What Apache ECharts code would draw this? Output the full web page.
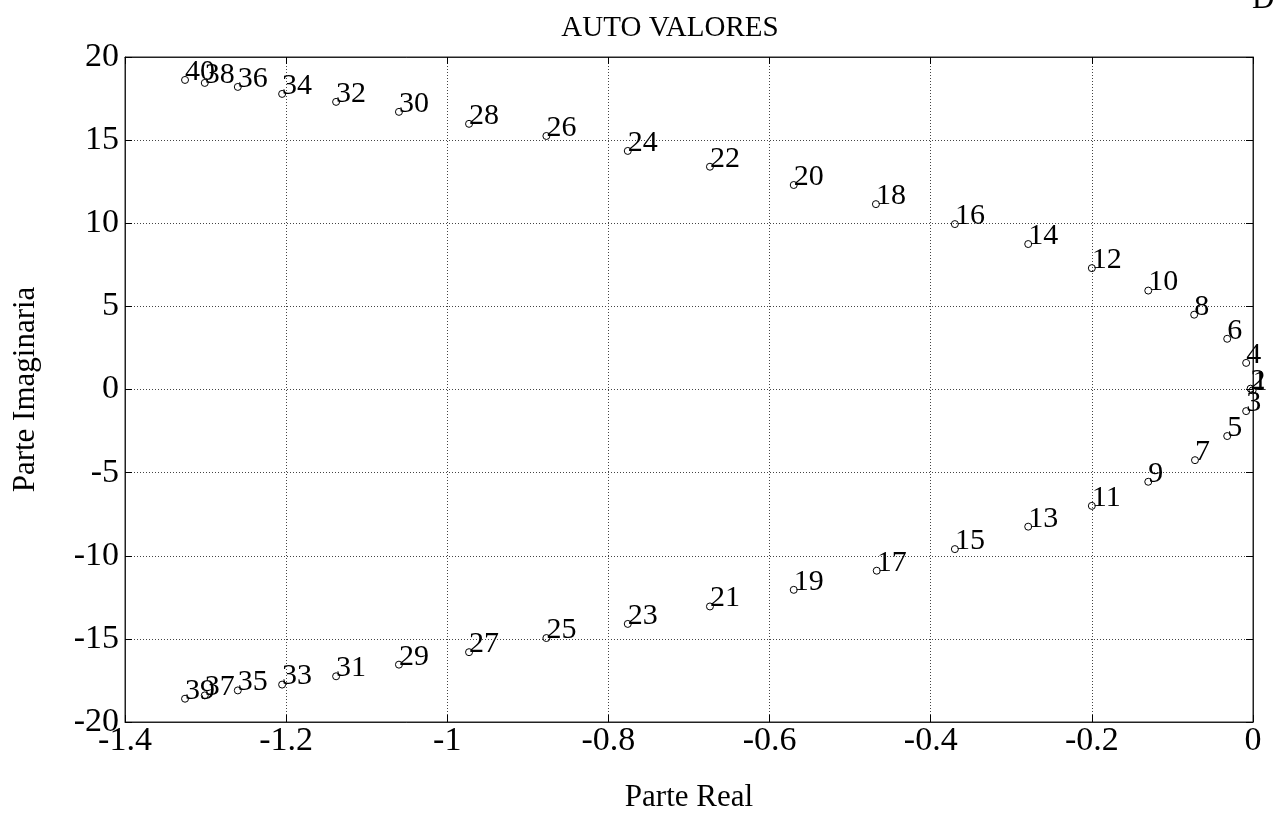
<!DOCTYPE html>
<html>
<head>
<meta charset="utf-8">
<script src="https://cdn.jsdelivr.net/npm/echarts@6/dist/echarts.min.js"></script>
<style>
  html, body { margin: 0; padding: 0; background: #fff; }
  #chart { width: 1273px; height: 830px; }
</style>
</head>
<body>
<div id="chart"></div>
<script>
// Eigenvalue numbers and their real / imaginary parts (same order)
const numeros = [
  1, 2, 3, 4, 5, 6, 7, 8, 9, 10,
  11, 12, 13, 14, 15, 16, 17, 18, 19, 20,
  21, 22, 23, 24, 25, 26, 27, 28, 29, 30,
  31, 32, 33, 34, 35, 36, 37, 38, 39, 40
];
const parteReal = [
  -0.0005, -0.003, -0.0085, -0.0085, -0.032, -0.032, -0.072, -0.073, -0.130, -0.130,
  -0.200, -0.200, -0.279, -0.279, -0.370, -0.370, -0.467, -0.468, -0.570, -0.570,
  -0.674, -0.674, -0.776, -0.776, -0.877, -0.877, -0.973, -0.973, -1.060, -1.060,
  -1.138, -1.138, -1.205, -1.205, -1.260, -1.260, -1.301, -1.301, -1.3255, -1.3255
];
const parteImaginaria = [
  -0.05, 0.05, -1.30, 1.60, -2.80, 3.05, -4.25, 4.50, -5.55, 5.95,
  -7.00, 7.30, -8.25, 8.75, -9.60, 9.95, -10.90, 11.15, -12.05, 12.30,
  -13.05, 13.40, -14.10, 14.35, -14.95, 15.25, -15.80, 15.98, -16.55, 16.70,
  -17.25, 17.30, -17.75, 17.78, -18.10, 18.20, -18.40, 18.44, -18.60, 18.62
];

// Axis settings
const ejeX = { min: -1.4, max: 0, interval: 0.2 };
const ejeY = { min: -20, max: 20, interval: 5 };

const serif = '"Liberation Serif", "DejaVu Serif", serif';

const puntos = numeros.map((n, i) => ({
  value: [parteReal[i], parteImaginaria[i]],
  name: String(n)
}));

const chart = echarts.init(document.getElementById('chart'), null, { renderer: 'canvas' });

const splitStyle = { show: true, lineStyle: { color: '#444', width: 1, type: [1, 2] } };
const tickIn = { show: true, inside: true, length: 7, lineStyle: { color: '#000', width: 1 } };
const lineaEje = { show: true, onZero: false, lineStyle: { color: '#222', width: 1 } };

chart.setOption({
  animation: false,
  backgroundColor: '#fff',
  title: {
    text: 'AUTO VALORES',
    left: 665,
    top: 9,
    textAlign: 'center',
    textStyle: { fontFamily: serif, fontSize: 29, fontWeight: 'normal', color: '#000' }
  },
  grid: {
    left: 125, right: 20, top: 57, bottom: 108,
    show: true, borderColor: '#222', borderWidth: 1, backgroundColor: 'transparent'
  },
  xAxis: [
    {
      type: 'value', min: ejeX.min, max: ejeX.max, interval: ejeX.interval,
      position: 'bottom',
      name: 'Parte Real', nameLocation: 'middle', nameGap: 60,
      nameTextStyle: { fontFamily: serif, fontSize: 31, color: '#000' },
      axisLine: lineaEje,
      axisTick: tickIn,
      axisLabel: { fontFamily: serif, fontSize: 34, color: '#000', margin: 2 },
      splitLine: splitStyle
    },
    {
      type: 'value', min: ejeX.min, max: ejeX.max, interval: ejeX.interval,
      position: 'top',
      axisLine: lineaEje,
      axisTick: tickIn,
      axisLabel: { show: false },
      splitLine: { show: false }
    }
  ],
  yAxis: [
    {
      type: 'value', min: ejeY.min, max: ejeY.max, interval: ejeY.interval,
      position: 'left',
      name: 'Parte Imaginaria', nameLocation: 'middle', nameGap: 84,
      nameTextStyle: { fontFamily: serif, fontSize: 31, color: '#000' },
      axisLine: lineaEje,
      axisTick: tickIn,
      axisLabel: { fontFamily: serif, fontSize: 34, color: '#000', margin: 6 },
      splitLine: splitStyle
    },
    {
      type: 'value', min: ejeY.min, max: ejeY.max, interval: ejeY.interval,
      position: 'right',
      axisLine: lineaEje,
      axisTick: tickIn,
      axisLabel: { show: false },
      splitLine: { show: false }
    }
  ],
  graphic: [
    {
      type: 'text', left: 1252, top: -16,
      style: { text: 'D', fontFamily: serif, fontSize: 31, fill: '#000' }
    }
  ],
  series: [
    {
      type: 'scatter',
      data: puntos,
      symbol: 'circle',
      symbolSize: 7,
      itemStyle: { color: 'rgba(255,255,255,0)', borderColor: '#000', borderWidth: 1, opacity: 1 },
      label: {
        show: true,
        position: [4, -4],
        align: 'left',
        verticalAlign: 'middle',
        formatter: p => p.name,
        fontFamily: serif,
        fontSize: 30,
        color: '#000',
        textBorderWidth: 0
      },
      emphasis: { disabled: true },
      clip: false,
      z: 5
    }
  ]
});
</script>
</body>
</html>
